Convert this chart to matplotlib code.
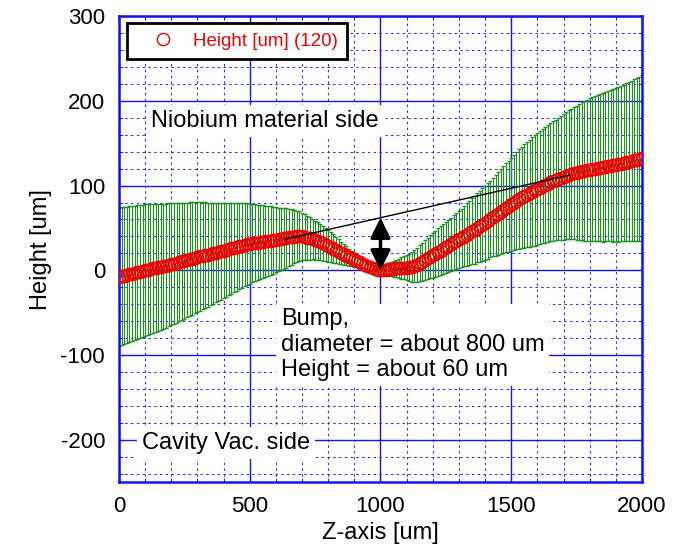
import numpy as np
import matplotlib.pyplot as plt
from matplotlib.ticker import MultipleLocator

plt.rcParams['font.family'] = ['Liberation Sans', 'DejaVu Sans']
plt.rcParams['axes.unicode_minus'] = False

# measured profile, one point every 10 um
z = np.arange(0, 2001, 10)
height = [
    -8, -7.2, -6.4, -5.6, -4.8, -4, -3.2, -2.4, -1.6, -0.8,
    0, 0.7, 1.4, 2.1, 2.8, 3.5, 4.2, 4.9, 5.6, 6.3,
    7, 7.9, 8.7, 9.6, 10.4, 11.3, 12.1, 13, 13.8, 14.7,
    15.5, 16.3, 17, 17.8, 18.5, 19.3, 20, 20.8, 21.5, 22.3,
    23, 23.9, 24.8, 25.7, 26.6, 27.4, 28.3, 29.2, 30.1, 31,
    31.4, 31.9, 32.3, 32.7, 33.1, 33.6, 34, 34.5, 35, 35.5,
    36, 36.5, 37, 37.6, 38.1, 38.7, 39.3, 39.8, 40.1, 40.2,
    40, 39.3, 38.5, 37.6, 36.8, 35.5, 34.3, 33, 31.7, 30.3,
    29, 27.3, 25.6, 23.8, 22.1, 20.4, 18.7, 17.1, 15.5, 13.9,
    12.3, 10.8, 9.2, 7.8, 6.6, 5.4, 4.2, 3, 1.8, 0.8,
    0.3, 0.2, 0.5, 1, 1.4, 1.8, 2.1, 2.3, 2.6, 2.8,
    3, 3.4, 4, 5.1, 6.6, 8.5, 10.2, 12, 13.9, 15.8,
    17.6, 19.5, 21.4, 23.3, 25.1, 27, 28.9, 30.9, 32.8, 34.7,
    36.5, 38.4, 40.3, 42.2, 44.1, 46, 47.8, 50, 52, 54,
    56, 58.2, 60.4, 62.6, 64.8, 67, 69.2, 71.4, 73.6, 75.8,
    78, 80, 82, 84, 86, 87.7, 89.3, 91, 92.7, 94.3,
    96, 97.6, 99.1, 100.7, 102.2, 103.8, 105.4, 106.8, 108, 109.2,
    110.4, 111.5, 112.7, 113.9, 114.6, 115.3, 116, 116.7, 117.4, 118.1,
    118.8, 119.3, 119.9, 120.4, 121, 121.5, 122, 122.7, 123.3, 123.9,
    124.6, 125.2, 125.9, 126.6, 127.4, 128.2, 128.9, 129.7, 130.5, 131.2,
    132,
]
height_err = [
    82, 81.6, 81.2, 80.8, 80.4, 80, 79.6, 79.2, 78.8, 78.4,
    78, 77.4, 76.8, 76.2, 75.6, 75, 74.4, 73.8, 73.2, 72.6,
    72, 71.3, 70.6, 69.9, 69.2, 68.5, 67.8, 67.1, 66.4, 65.7,
    65, 64.1, 63.2, 62.3, 61.4, 60.5, 59.6, 58.7, 57.8, 56.9,
    56, 55.1, 54.2, 53.3, 52.4, 51.6, 50.7, 49.8, 48.9, 48,
    47.1, 46.3, 45.4, 44.6, 43.7, 42.9, 42, 41.1, 40.3, 39.4,
    38.5, 37.6, 36.8, 35.9, 35, 33.8, 32.7, 31.5, 30.3, 29.2,
    28, 27, 26, 25, 24, 23, 22.2, 21.4, 20.6, 19.8,
    19, 17.9, 16.8, 15.7, 14.6, 13.5, 12.4, 11.3, 10.1, 9,
    7.9, 6.8, 5.6, 5, 4.5, 4, 3.5, 3, 3, 3,
    3, 4.5, 6, 7.5, 8.5, 9.5, 10.5, 11.5, 12.6, 13.7,
    14.8, 16, 17.3, 18.6, 19.9, 21.2, 22.5, 23.5, 24.4, 25.3,
    26.2, 27.1, 28, 28.8, 29.3, 30, 30.7, 31.4, 32.1, 32.7,
    33.3, 34.5, 35.6, 36.7, 37.8, 38.9, 40, 40.8, 41.7, 42.6,
    43.5, 44.4, 45.3, 46.3, 47.5, 48.8, 50, 51.3, 52.5, 53.7,
    54.7, 56, 57.3, 58.7, 60, 61, 62.1, 63.2, 64.2, 65.3,
    65.8, 66.5, 67.3, 68.1, 68.8, 69.6, 70.4, 71.2, 72.2, 73.1,
    74.1, 75, 76, 77, 78.1, 79.2, 80.3, 81.4, 82.5, 83.5,
    84.3, 85, 85.6, 86.3, 87, 87.6, 88, 88.7, 89.3, 90,
    90.6, 91.3, 91.9, 92.6, 93.4, 94.1, 94.9, 95.7, 96.4, 97.2,
    98,
]

# guide line across the bump and the bump height arrow
guide_z = [635, 1725]
guide_h = [36.6, 112.5]
bump_z = 1000
bump_bottom, bump_top = 0, 62

blue = '#1414f0'

fig = plt.figure(figsize=(6.78, 5.45), dpi=100)
ax = fig.add_axes([0.1755, 0.1156, 0.7714, 0.8547])

ax.set_xlim(0, 2000)
ax.set_ylim(-250, 300)
ax.xaxis.set_major_locator(MultipleLocator(500))
ax.xaxis.set_minor_locator(MultipleLocator(100))
ax.yaxis.set_major_locator(MultipleLocator(100))
ax.yaxis.set_minor_locator(MultipleLocator(20))
ax.grid(which='major', color=blue, lw=1.0, ls='-', zorder=0)
ax.grid(which='minor', color='#3030f0', lw=0.8, ls=(0, (2.2, 3.0)), zorder=0)
ax.set_axisbelow(True)
for s in ax.spines.values():
    s.set_color(blue)
    s.set_linewidth(1.8)
ax.tick_params(which='both', direction='in', color=blue, top=True, right=True)
ax.tick_params(which='major', length=5, labelsize=16, pad=10)
ax.tick_params(which='minor', length=3)

ax.errorbar(z, height, yerr=height_err, fmt='none', ecolor='#1f8f1f',
            elinewidth=0.8, capsize=1.6, capthick=1.0, zorder=2)
ax.plot(z, height, 'o', mfc='none', mec='#ee0000', mew=1.0, ms=8.8,
        label='Height [um] (120)', zorder=3)

ax.plot(guide_z, guide_h, color='black', lw=1.0, zorder=4)
ax.annotate('', xy=(bump_z, bump_bottom), xytext=(bump_z, bump_top),
            arrowprops=dict(arrowstyle='<|-|>,head_length=0.6,head_width=0.3',
                            lw=2.5, color='black', mutation_scale=20,
                            shrinkA=0, shrinkB=0), zorder=5)

box = dict(boxstyle='square,pad=0.2', fc='white', ec='none')
ax.text(122, 176, 'Niobium material side', fontsize=17, va='center',
        ha='left', bbox=box, zorder=6)
ax.text(620, -88, 'Bump,\ndiameter = about 800 um\nHeight = about 60 um',
        fontsize=17, va='center', ha='left', linespacing=1.2, bbox=box, zorder=6)
ax.text(88, -204, 'Cavity Vac. side', fontsize=17, va='center', ha='left',
        bbox=box, zorder=6)

leg = ax.legend(loc='upper left', bbox_to_anchor=(0.0153, 0.985),
                borderaxespad=0, numpoints=1, fontsize=13.5, handlelength=2.8,
                handletextpad=0.2, borderpad=0.5, fancybox=False, framealpha=1)
leg.get_frame().set_edgecolor('black')
leg.get_frame().set_linewidth(2)
for t in leg.get_texts():
    t.set_color('#ee0000')

ax.set_xlabel('Z-axis [um]', fontsize=17, labelpad=4)
ax.set_ylabel('Height [um]', fontsize=17, labelpad=6)

fig.savefig('out.png', dpi=100)
